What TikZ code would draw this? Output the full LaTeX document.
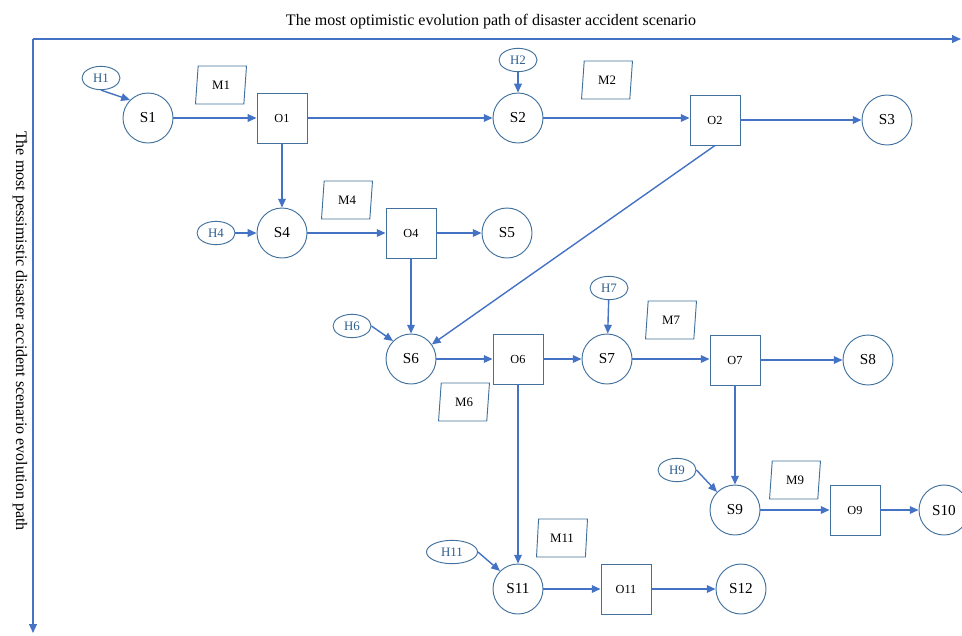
\documentclass[tikz,border=0pt]{standalone}
\usepackage{fontspec}
\setmainfont{Liberation Serif}
\usetikzlibrary{arrows.meta, shapes.geometric}
\definecolor{lineblue}{RGB}{68,114,196}
\definecolor{edgeblue}{RGB}{65,113,156}
\definecolor{textblue}{RGB}{46,94,142}

\begin{document}
\begin{tikzpicture}[x=0.03cm, y=-0.03cm,
  arrow/.style={-{Triangle[length=7.5pt, width=6.5pt]}, line width=1.2pt, lineblue},
  state/.style={circle, draw=edgeblue, line width=0.8pt, minimum size=1.5cm, inner sep=0pt, font=\fontsize{13}{14}\selectfont},
  ops/.style={rectangle, draw=edgeblue, line width=0.8pt, minimum size=1.5cm, inner sep=0pt, font=\fontsize{10.5}{12}\selectfont},
  hazard/.style={ellipse, draw=edgeblue, line width=0.8pt, minimum width=1.14cm, minimum height=0.7cm, inner sep=0pt, text=textblue, font=\fontsize{11}{12}\selectfont},
  measure/.style={trapezium, trapezium left angle=83, trapezium right angle=97, trapezium stretches=true, draw=edgeblue, line width=0.8pt, minimum width=1.53cm, minimum height=1.14cm, inner sep=0pt, font=\fontsize{11}{12}\selectfont},
  caption/.style={font=\fontsize{13.7}{15}\selectfont}
]
\useasboundingbox (0,0) rectangle (962,635);

\coordinate (origin) at (33,39);
\coordinate (xend) at (961,39);
\coordinate (yend) at (33,633);
\draw[arrow] (origin) -- (xend);
\draw[arrow] (origin) -- (yend);
\node[caption] (xlabel) at (491,22) {The most optimistic evolution path of disaster accident scenario};
\node[caption, rotate=-90] (ylabel) at (20,331) {The most pessimistic disaster accident scenario evolution path};

\node[hazard] (h1) at (101,78) {H1};
\node[state] (s1) at (148,118) {S1};
\node[measure] (m1) at (221,85) {M1};
\node[ops] (o1) at (282,118) {O1};
\node[hazard] (h2) at (518,60) {H2};
\node[state] (s2) at (518,118) {S2};
\node[measure] (m2) at (607,80) {M2};
\node[ops] (o2) at (715,120) {O2};
\node[state] (s3) at (887,120) {S3};

\node[hazard] (h4) at (216,233) {H4};
\node[state] (s4) at (282,233) {S4};
\node[measure] (m4) at (347,200) {M4};
\node[ops] (o4) at (411,233) {O4};
\node[state] (s5) at (507,233) {S5};

\node[hazard] (h6) at (352,326) {H6};
\node[state] (s6) at (411,359) {S6};
\node[measure] (m6) at (464,402) {M6};
\node[ops] (o6) at (518,359) {O6};
\node[hazard] (h7) at (609,288) {H7};
\node[state] (s7) at (607,359) {S7};
\node[measure] (m7) at (671,320) {M7};
\node[ops] (o7) at (735,360) {O7};
\node[state] (s8) at (868,360) {S8};

\node[hazard] (h9) at (677,470) {H9};
\node[state] (s9) at (735,510) {S9};
\node[measure] (m9) at (795,480) {M9};
\node[ops] (o9) at (855,510) {O9};
\node[state] (s10) at (944,510) {S10};

\node[hazard, minimum width=1.53cm] (h11) at (452,552) {H11};
\node[state] (s11) at (518,589) {S11};
\node[measure] (m11) at (562,538) {M11};
\node[ops] (o11) at (626,589) {O11};
\node[state] (s12) at (741,589) {S12};

\draw[arrow] (h1.south) -- (s1.north west);
\draw[arrow] (s1) -- (o1);
\draw[arrow] (o1) -- (s2);
\draw[arrow] (h2) -- (s2);
\draw[arrow] (s2) -- (o2.west |- s2);
\draw[arrow] (o2) -- (s3);
\draw[arrow] (o1) -- (s4);
\draw[arrow] (h4) -- (s4);
\draw[arrow] (s4) -- (o4);
\draw[arrow] (o4) -- (s5);
\draw[arrow] (o4) -- (s6);
\draw[arrow] (o2.south) -- (s6);
\draw[arrow] (h6.east) -- (s6.north west);
\draw[arrow] (s6) -- (o6);
\draw[arrow] (o6) -- (s7);
\draw[arrow] (h7) -- (s7);
\draw[arrow] (s7) -- (o7.west |- s7);
\draw[arrow] (o7) -- (s8);
\draw[arrow] (o7) -- (s9);
\draw[arrow] (h9.east) -- (s9.north west);
\draw[arrow] (s9) -- (o9);
\draw[arrow] (o9) -- (s10);
\draw[arrow] (o6) -- (s11);
\draw[arrow] (h11.east) -- (s11.north west);
\draw[arrow] (s11) -- (o11);
\draw[arrow] (o11) -- (s12);
\end{tikzpicture}
\end{document}
